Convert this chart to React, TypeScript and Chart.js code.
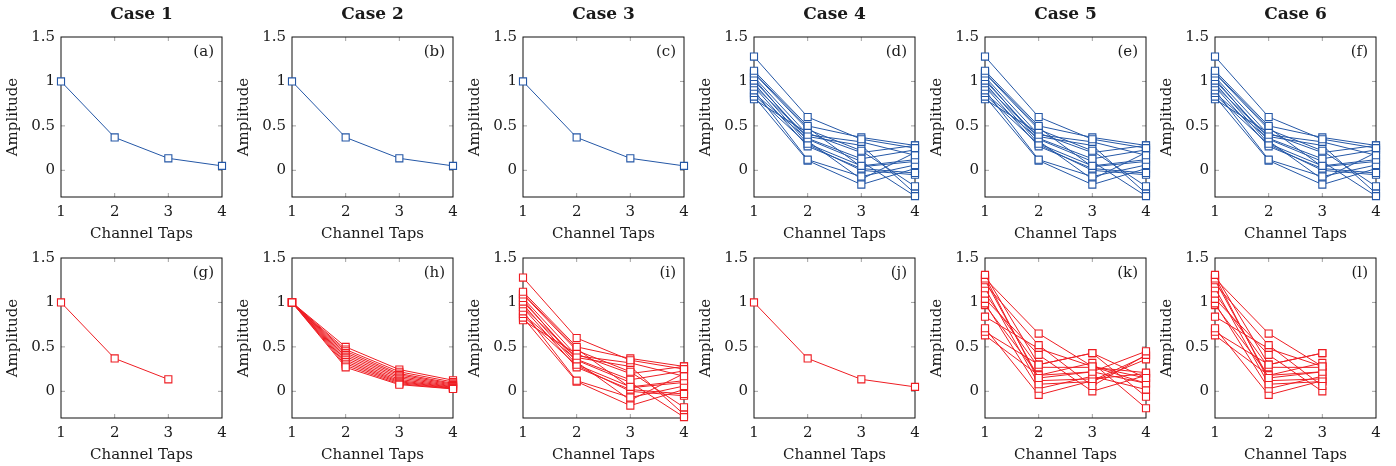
import React, { useEffect, useRef } from 'react';
import { Chart, registerables } from 'chart.js';

Chart.register(...registerables);

// ---------- data ----------
const TAPS = ['1', '2', '3', '4'];
const Y_TICKS = [0, 0.5, 1, 1.5];
const CASE_TITLES = ['Case 1', 'Case 2', 'Case 3', 'Case 4', 'Case 5', 'Case 6'];
const PANEL_LABELS = ['(a)', '(b)', '(c)', '(d)', '(e)', '(f)', '(g)', '(h)', '(i)', '(j)', '(k)', '(l)'];

const expDecay = [1, 0.37, 0.135, 0.05];
const expDecayShort = [1, 0.37, 0.135];

const decaySweep = [
  [1, 0.27, 0.075, 0.027],
  [1, 0.29, 0.085, 0.03],
  [1, 0.31, 0.097, 0.034],
  [1, 0.33, 0.108, 0.039],
  [1, 0.35, 0.12, 0.045],
  [1, 0.37, 0.135, 0.052],
  [1, 0.39, 0.152, 0.06],
  [1, 0.41, 0.168, 0.07],
  [1, 0.43, 0.185, 0.08],
  [1, 0.45, 0.2, 0.09],
  [1, 0.47, 0.22, 0.105],
  [1, 0.5, 0.245, 0.125],
];

const randomTaps = [
  [1.28, 0.6, 0.35, 0.25],
  [1.12, 0.5, 0.37, 0.28],
  [1.09, 0.46, 0.22, -0.18],
  [1.05, 0.4, 0.32, 0.17],
  [1.01, 0.36, 0.13, 0.23],
  [0.98, 0.3, 0.05, 0.12],
  [0.94, 0.27, 0.02, -0.03],
  [0.9, 0.12, -0.07, 0.06],
  [0.87, 0.35, 0.1, -0.29],
  [0.83, 0.11, -0.16, 0.02],
  [0.8, 0.42, 0.2, 0.28],
  [1.03, 0.33, -0.1, 0.2],
  [0.95, 0.38, 0.28, -0.26],
  [1.1, 0.48, 0.04, 0.1],
  [0.85, 0.29, 0.0, -0.05],
];

const mixedTaps = [
  [1.31, 0.3, 0.43, 0.15],
  [1.27, 0.65, 0.28, 0.09],
  [1.25, 0.15, 0.22, 0.45],
  [1.21, 0.52, 0.06, 0.41],
  [1.16, 0.08, 0.11, 0.36],
  [1.1, 0.27, 0.27, 0.21],
  [1.04, 0.41, 0.0, 0.18],
  [0.99, 0.03, 0.17, 0.02],
  [0.97, 0.18, 0.32, -0.19],
  [0.84, 0.48, 0.28, 0.15],
  [0.71, -0.04, 0.12, 0.4],
  [0.67, 0.3, 0.43, -0.06],
  [0.63, 0.18, 0.22, 0.09],
  [1.29, 0.12, 0.14, 0.2],
];

const BLUE = '#2457a6';
const RED = '#ee1d23';

const FONT_FAMILY = "'DejaVu Serif', 'Liberation Serif', serif";
const TEXT_COLOR = '#1a1a1a';

// ---------- layout ----------
const PLOT_LEFTS = [61.3, 292.1, 522.9, 753.7, 984.5, 1215.3];
const PLOT_TOPS = [37, 258];
const PLOT_W = 161;
const PLOT_H = 160;
const AXIS_W = 61;
const AXIS_H = 48;
const RIGHT_PAD = 12;
const ROW2_TOP_PAD = 20;

const framePlugin = {
  id: 'frame',
  beforeDatasetsDraw(chart: any) {
    const { ctx, chartArea, scales } = chart;
    const { left, right, top, bottom } = chartArea;
    ctx.save();
    ctx.strokeStyle = '#8a8a8a';
    ctx.lineWidth = 0.8;
    const tl = 4;
    [1, 2].forEach((i) => {
      const x = scales.x.getPixelForValue(i);
      ctx.beginPath();
      ctx.moveTo(x, top);
      ctx.lineTo(x, top + tl);
      ctx.moveTo(x, bottom);
      ctx.lineTo(x, bottom - tl);
      ctx.stroke();
    });
    [0, 0.5, 1].forEach((v) => {
      const y = scales.y.getPixelForValue(v);
      ctx.beginPath();
      ctx.moveTo(left, y);
      ctx.lineTo(left + tl, y);
      ctx.moveTo(right, y);
      ctx.lineTo(right - tl, y);
      ctx.stroke();
    });
    ctx.strokeStyle = '#111';
    ctx.lineWidth = 1;
    ctx.strokeRect(left, top, right - left, bottom - top);
    const label = chart.options.plugins.frame?.label;
    if (label) {
      ctx.fillStyle = TEXT_COLOR;
      ctx.font = `15px ${FONT_FAMILY}`;
      ctx.textAlign = 'right';
      ctx.textBaseline = 'middle';
      ctx.fillText(label, right - 8, top + 15);
    }
    ctx.restore();
  },
};

type PanelProps = {
  row: number;
  col: number;
  series: number[][];
  color: string;
  label: string;
  title?: string;
};

function Panel({ row, col, series, color, label, title }: PanelProps) {
  const ref = useRef<HTMLCanvasElement | null>(null);
  const topPad = row === 0 ? 0 : ROW2_TOP_PAD;
  const width = Math.round(AXIS_W + PLOT_W + RIGHT_PAD);
  const height = row === 0 ? PLOT_TOPS[0] + PLOT_H + AXIS_H : ROW2_TOP_PAD + PLOT_H + AXIS_H;
  const left = Math.round(PLOT_LEFTS[col] - AXIS_W);
  const top = row === 0 ? 0 : PLOT_TOPS[1] - ROW2_TOP_PAD;

  useEffect(() => {
    if (!ref.current) return;
    const font = { family: FONT_FAMILY, size: 15, lineHeight: 1.2 };
    const chart = new Chart(ref.current, {
      type: 'line',
      data: {
        labels: TAPS,
        datasets: series.map((s) => ({
          data: s,
          borderColor: color,
          borderWidth: 1,
          pointStyle: 'rect',
          pointRadius: 5,
          pointBackgroundColor: '#ffffff',
          pointBorderColor: color,
          pointBorderWidth: 1.1,
          fill: false,
          tension: 0,
          clip: false,
        })),
      },
      options: {
        animation: false,
        responsive: false,
        maintainAspectRatio: false,
        events: [],
        layout: { padding: { top: topPad, right: RIGHT_PAD, left: 0, bottom: 0 } },
        plugins: {
          legend: { display: false },
          tooltip: { enabled: false },
          title: title
            ? {
                display: true,
                text: title,
                fullSize: false,
                color: TEXT_COLOR,
                font: { family: FONT_FAMILY, size: 17, weight: 'bold', lineHeight: 1.2 },
                padding: { top: 4.8, bottom: 11.8 },
              }
            : { display: false },
          frame: { label },
        } as any,
        scales: {
          x: {
            type: 'category',
            offset: false,
            grid: { display: false, drawTicks: false },
            border: { display: false },
            ticks: { padding: 6, color: TEXT_COLOR, font, maxRotation: 0, autoSkip: false },
            title: {
              display: true,
              text: 'Channel Taps',
              color: TEXT_COLOR,
              font,
              padding: { top: 0, bottom: 2 },
            },
            afterFit: (s: any) => {
              s.height = AXIS_H;
            },
          },
          y: {
            type: 'linear',
            min: -0.3,
            max: 1.5,
            grid: { display: false, drawTicks: false },
            border: { display: false },
            afterBuildTicks: (s: any) => {
              s.ticks = Y_TICKS.map((v) => ({ value: v }));
            },
            ticks: {
              padding: 6,
              color: TEXT_COLOR,
              font,
              callback: (v: any) => String(v),
            },
            title: {
              display: true,
              text: 'Amplitude',
              color: TEXT_COLOR,
              font,
              padding: { top: 4, bottom: 0 },
            },
            afterFit: (s: any) => {
              s.width = AXIS_W;
            },
          },
        } as any,
      },
      plugins: [framePlugin],
    } as any);
    return () => chart.destroy();
  }, [row, col, series, color, label, title]);

  return (
    <canvas
      ref={ref}
      width={width}
      height={height}
      style={{ position: 'absolute', left, top, width, height }}
    />
  );
}

const mixedTapsShort = mixedTaps.map((s) => s.slice(0, 3));

const PANELS: { series: number[][]; color: string }[] = [
  { series: [expDecay], color: BLUE },
  { series: [expDecay], color: BLUE },
  { series: [expDecay], color: BLUE },
  { series: randomTaps, color: BLUE },
  { series: randomTaps, color: BLUE },
  { series: randomTaps, color: BLUE },
  { series: [expDecayShort], color: RED },
  { series: decaySweep, color: RED },
  { series: randomTaps, color: RED },
  { series: [expDecay], color: RED },
  { series: mixedTaps, color: RED },
  { series: mixedTapsShort, color: RED },
];

export default function App() {
  return (
    <div style={{ position: 'absolute', left: 0, top: 0, width: 1396, height: 466, background: '#fff' }}>
      {PANELS.map((p, i) => {
        const row = Math.floor(i / 6);
        const col = i % 6;
        return (
          <Panel
            key={i}
            row={row}
            col={col}
            series={p.series}
            color={p.color}
            label={PANEL_LABELS[i]}
            title={row === 0 ? CASE_TITLES[col] : undefined}
          />
        );
      })}
    </div>
  );
}
